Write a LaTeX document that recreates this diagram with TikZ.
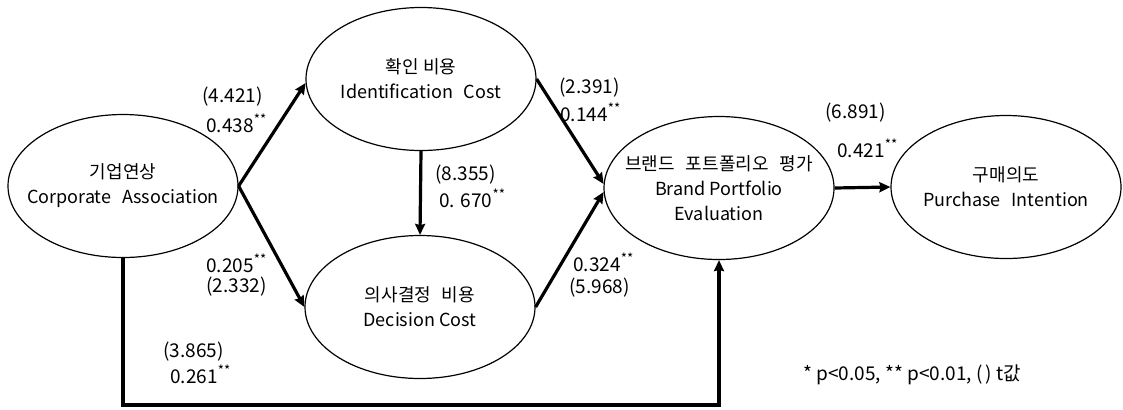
\documentclass[tikz,border=0pt]{standalone}
\usepackage{fontspec}
\setmainfont{Noto Sans CJK KR}
\usetikzlibrary{arrows.meta,positioning,shapes.geometric}
\newcommand{\twostar}{\textsuperscript{**}}
\newcommand{\wsp}{\hspace{0.6em}}

\begin{document}
\begin{tikzpicture}[x=0.5pt,y=-0.5pt,>={Stealth[length=5.5pt,width=5pt,inset=0.6pt]},
 latent/.style={draw,ellipse,line width=0.6pt,minimum width=115pt,minimum height=71.5pt,inner sep=0pt},
 txt/.style={align=center,font=\fontsize{9}{12.5}\selectfont},
 coef/.style={anchor=west,inner sep=0pt,font=\fontsize{9.5}{12}\selectfont},
 link/.style={->,line width=1.6pt}]
\useasboundingbox (0,0) rectangle (1123,409);
% latent variables
\node[latent] (A) at (123,186) {};
\node[latent] (I) at (421,79) {};
\node[latent] (D) at (420,307) {};
\node[latent] (B) at (719,188) {};
\node[latent] (P) at (1006,187) {};
\node[txt] (A-t) at (A) {기업연상\\Corporate\wsp Association};
\node[txt] (I-t) at (I) {확인 비용\\Identification\wsp Cost};
\node[txt] (D-t) at (D) {의사결정\wsp 비용\\Decision Cost};
\node[txt] (B-t) at (B) {브랜드\wsp 포트폴리오\wsp 평가\\Brand Portfolio\\Evaluation};
\node[txt] (P-t) at (P) {구매의도\\Purchase\wsp Intention};
% paths
\foreach \x/\y in {A.east/I.182,A.east/D.west,I.south/D.north,I.east/B.178,D.east/B.182,B.east/P.west}
 \draw[link] (\x)--(\y);
\coordinate (low) at (0,405);
\draw[link] (A.south)--(A.south |- low)-|(B.south);
% coefficients and t values
\foreach \n/\x/\y/\t in {c1/202/97/{(4.421)},c2/206/123/{0.438\twostar},
 c3/206/263/{0.205\twostar},c4/206/287/{(2.332)},c5/435/175/{(8.355)},
 c6/439/198/{0. 670\twostar},c7/559/88/{(2.391)},c8/560/112/{0.144\twostar},
 c9/825/113/{(6.891)},c10/837/148/{0.421\twostar},c11/573/262/{0.324\twostar},
 c12/569/288/{(5.968)},c13/163/352/{(3.865)},c14/170/374/{0.261\twostar}}
 \node[coef] (\n) at (\x,\y) {\t};
\node[coef] (note) at (803,375) {* p<0.05, ** p<0.01, (\,) t값};
\end{tikzpicture}
\end{document}
